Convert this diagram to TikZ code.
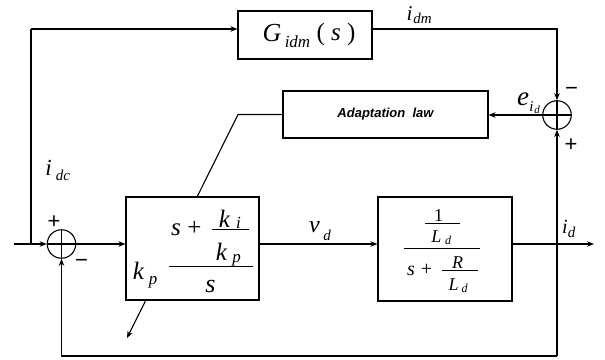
\documentclass[tikz,border=0pt]{standalone}
\usepackage{fontspec}
\newfontfamily\arialf{Liberation Sans}
\newfontfamily\tms{Liberation Serif}
\usetikzlibrary{arrows.meta}
\begin{document}
\begin{tikzpicture}[x=1pt,y=-1pt,
  every path/.style={line width=1.1pt},
  arr/.style={-{Stealth[length=7pt,width=5.5pt]}},
  blk/.style={draw,fill=white,inner sep=0pt,line width=1.1pt},
  sumc/.style={draw,circle,minimum size=28.5pt,inner sep=0pt,line width=1.1pt},
  tv/.style={inner sep=0pt,anchor=base,font=\tms\itshape\fontsize{#1}{#1}\selectfont},
  tu/.style={inner sep=0pt,anchor=base,font=\tms\fontsize{#1}{#1}\selectfont},
  sgn/.style={inner sep=0pt,font=\arialf\fontsize{22}{22}\selectfont},
  fbar/.style={line width=0.9pt}]
\useasboundingbox (0,0) rectangle (605,359);
% blocks
\node[blk,minimum width=134pt,minimum height=48pt] (G) at (305,35) {};
\node[blk,minimum width=205pt,minimum height=47pt,font=\arialf\bfseries\itshape\fontsize{13}{15}\selectfont] (AL) at (385.5,114.5) {Adaptation\ \ law};
\coordinate (ad1) at (238,114.5);
\coordinate (ad2) at (127,338);
\draw[arr] (AL.west) -- (ad1) -- (ad2);
\node[blk,minimum width=133pt,minimum height=103pt] (PI) at (192.5,248.5) {};
\node[blk,minimum width=134pt,minimum height=104pt] (PL) at (445,249) {};
% G box text
\node[tv=26] (gG) at (272,41.5) {G};
\node[tv=17] (gsub) at (297.5,47) {idm};
\node[tv=25] (gs) at (336,40.5) {{\upshape(} s {\upshape)}};
% PI box text
\node[tv=25] (pk) at (138.5,279) {k};
\node[tv=17] (pp) at (153,284) {p};
\coordinate (pb1) at (169,266); \coordinate (pb2) at (253,266);
\draw[fbar] (pb1) -- (pb2);
\node[tv=25] (ps1) at (176,235) {s};
\node[tu=25] (pplus) at (194.5,235) {+};
\coordinate (pi1) at (212,229.5); \coordinate (pi2) at (249,229.5);
\draw[fbar] (pi1) -- (pi2);
\node[tv=25] (pki) at (224.5,227) {k};
\node[tv=17] (pi) at (238.5,228) {i};
\node[tv=25] (pkp) at (221.5,260) {k};
\node[tv=17] (ppp) at (236.5,262) {p};
\node[tv=26] (ps2) at (210.5,292) {s};
% plant box text
\node[tu=18] (l1) at (438.5,221.5) {1};
\coordinate (lb1) at (425,223); \coordinate (lb2) at (460,223);
\draw[fbar] (lb1) -- (lb2);
\node[tv=18] (lL1) at (436.5,242) {L};
\node[tv=12] (ld1) at (448,244) {d};
\coordinate (lm1) at (404,248); \coordinate (lm2) at (480,248);
\draw[fbar] (lm1) -- (lm2);
\node[tv=20] (ls) at (411,275) {s};
\node[tu=20] (lplus) at (426.5,275) {+};
\node[tv=18] (lR) at (457.5,268.5) {R};
\coordinate (lr1) at (442,270.5); \coordinate (lr2) at (478,270.5);
\draw[fbar] (lr1) -- (lr2);
\node[tv=18] (lL2) at (453.5,290) {L};
\node[tv=12] (ld2) at (464.5,292) {d};
% sums
\node[sumc] (s1) at (61.5,244) {};
\draw (s1.north) -- (s1.south) (s1.west) -- (s1.east);
\node[sumc] (s2) at (557,115) {};
\draw (s2.north) -- (s2.south) (s2.west) -- (s2.east);
% coordinates
\coordinate (in) at (14,244);
\coordinate (tl) at (31,29);
\coordinate (tb) at (31,244);
\coordinate (tr) at (557,29);
\coordinate (out) at (594,244);
\coordinate (fbr) at (557,356);
\coordinate (fbl) at (61.5,356);
% connectors
\draw[arr] (in) -- (s1.west);
\draw (tb) -- (tl);
\draw[arr] (tl) -- (G.west |- tl);
\draw[arr] (G.east |- tl) -- (tr) -- (s2.north);
\draw[arr] (s2.west) -- (AL.east |- s2.west);
\draw[arr] (s1.east) -- (PI.west |- s1);
\draw[arr] (PI.east |- s1) -- (PL.west |- s1);
\draw[arr] (PL.east |- s1) -- (out);
\draw[arr] (fbr) -- (fbl) -- (s1.south);
\draw[arr] (fbr) -- (s2.south);
% labels
\node[tv=21] (idm1) at (409.5,20) {i};
\node[tv=15] (idm2) at (422.5,23) {dm};
\node[tv=27] (e1) at (523,105) {e};
\node[tv=15] (e2) at (531.5,111.5) {i};
\node[tv=11] (e3) at (537,113.5) {d};
\node[sgn] (m2) at (571.5,91) {−};
\node[sgn] (p2) at (571,145) {+};
\node[tv=23] (idc1) at (48.5,175) {i};
\node[tv=15] (idc2) at (63,180) {dc};
\node[sgn] (p1) at (54,222) {+};
\node[sgn] (m1) at (81.5,263) {−};
\node[tv=24] (vd1) at (314.5,232) {v};
\node[tv=15] (vd2) at (327,240) {d};
\node[tv=20] (id1) at (565,233) {i};
\node[tv=15] (id2) at (571.5,237) {d};
\end{tikzpicture}
\end{document}
